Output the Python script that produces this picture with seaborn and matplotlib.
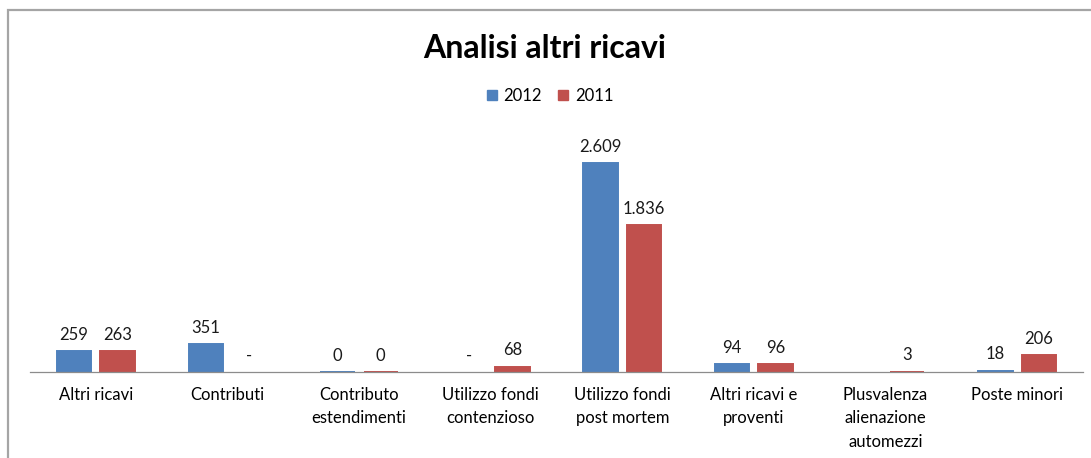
import matplotlib
matplotlib.use("Agg")
import matplotlib.pyplot as plt
from matplotlib.patches import Rectangle, Patch
import pandas as pd
import seaborn as sns

# Values (migliaia di euro)
categories = ["Altri ricavi", "Contributi", "Contributo\nestendimenti",
              "Utilizzo fondi\ncontenzioso", "Utilizzo fondi\npost mortem",
              "Altri ricavi e\nproventi", "Plusvalenza\nalienazione\nautomezzi",
              "Poste minori"]
values_2012 = [259, 351, 0.4, 0, 2609, 94, 0, 18]
values_2011 = [263, 0, 0.4, 68, 1836, 96, 3, 206]
labels_2012 = ["259", "351", "0", "-", "2.609", "94", "", "18"]
labels_2011 = ["263", "-", "0", "68", "1.836", "96", "3", "206"]
years = ["2012", "2011"]
colors = ["#4F81BD", "#C0504D"]


def build_df():
    rows = []
    for cat, a, b in zip(categories, values_2012, values_2011):
        rows.append({"voce": cat, "anno": "2012", "valore": a})
        rows.append({"voce": cat, "anno": "2011", "valore": b})
    return pd.DataFrame(rows)


def main():
    sns.set_style("white")
    plt.rcParams["font.family"] = ["Lato", "DejaVu Sans"]
    plt.rcParams["text.color"] = "black"
    plt.rcParams["xtick.color"] = "black"

    df = build_df()
    fig = plt.figure(figsize=(10.91, 4.58), dpi=100)
    ax = fig.add_axes([30 / 1091, 86 / 458, 1053 / 1091, 242 / 458])

    sns.barplot(data=df, x="voce", y="valore", hue="anno", hue_order=years,
                palette=colors, saturation=1, width=0.66, gap=0.21, ax=ax,
                legend=False, order=categories)

    # tiny non-zero bars still show as a thin line, zero bars don't
    for cont, vals, col, labs in zip(ax.containers, [values_2012, values_2011],
                                     colors, [labels_2012, labels_2011]):
        for patch, v in zip(cont.patches, vals):
            patch.set_edgecolor(col)
            patch.set_linewidth(1.4 if v > 0 else 0)
        ax.bar_label(cont, labels=labs, padding=6, fontsize=12,
                     color="#1a1a1a")

    ax.set_xlim(-0.5, len(categories) - 0.5)
    ax.set_ylim(0, 3020)
    ax.set_xlabel("")
    ax.set_ylabel("")
    ax.set_yticks([])
    ax.tick_params(axis="x", length=0, pad=11, labelsize=12)
    for lbl in ax.get_xticklabels():
        lbl.set_linespacing(1.55)
    for side in ["top", "right", "left"]:
        ax.spines[side].set_visible(False)
    ax.spines["bottom"].set_color("#8C8C8C")
    ax.spines["bottom"].set_linewidth(0.9)

    fig.text(545 / 1091, 1 - 48 / 458, "Analisi altri ricavi", ha="center",
             va="center", fontsize=23, fontweight="bold")

    handles = [Patch(facecolor=c, edgecolor=c) for c in colors]
    fig.legend(handles, years, loc="center", bbox_to_anchor=(550 / 1091, 1 - 96 / 458),
               ncol=2, frameon=False, fontsize=12, handlelength=0.6,
               handleheight=0.6, handletextpad=0.4, columnspacing=1.0)

    # grey chart frame (top and left edges visible in the reference)
    fig.add_artist(Rectangle((8 / 1091, -0.2), 1.2, 1.2 - 10 / 458,
                             transform=fig.transFigure, fill=False,
                             edgecolor="#A5A5A5", linewidth=1.6))

    fig.savefig("out.png", dpi=100, facecolor="white")


if __name__ == "__main__":
    main()
